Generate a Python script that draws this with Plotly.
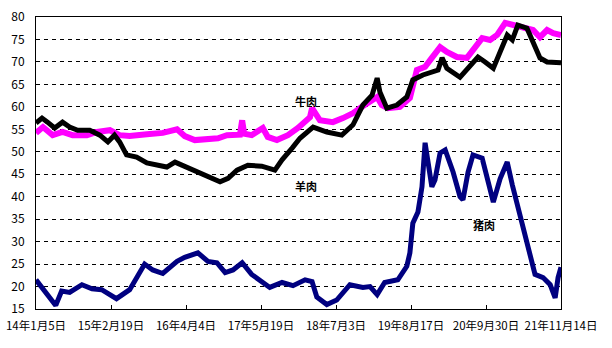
import plotly.graph_objects as go

# ---- data ----
tick_dates = ["2014-01-05", "2015-02-19", "2016-04-04", "2017-05-19",
              "2018-07-03", "2019-08-17", "2020-09-30", "2021-11-14"]
tick_labels = ["14年1月5日", "15年2月19日", "16年4月4日", "17年5月19日",
               "18年7月3日", "19年8月17日", "20年9月30日", "21年11月14日"]

pork_dates = ["2014-01-05", "2014-02-23", "2014-04-23", "2014-05-25", "2014-07-08", "2014-09-13",
              "2014-11-07", "2014-12-30", "2015-03-21", "2015-06-01", "2015-07-09", "2015-08-22",
              "2015-10-05", "2015-11-29", "2016-02-15", "2016-03-28", "2016-06-08", "2016-08-02",
              "2016-09-20", "2016-11-04", "2016-12-17", "2017-02-05", "2017-03-29", "2017-05-23",
              "2017-07-06", "2017-09-11", "2017-11-10", "2018-01-15", "2018-02-22", "2018-03-20",
              "2018-05-14", "2018-07-07", "2018-09-17", "2018-11-27", "2019-01-05", "2019-02-13",
              "2019-03-26", "2019-06-06", "2019-07-25", "2019-08-11", "2019-08-27", "2019-09-24",
              "2019-10-16", "2019-11-02", "2019-11-18", "2019-12-09", "2019-12-26", "2020-01-23",
              "2020-02-20", "2020-04-03", "2020-05-11", "2020-05-27", "2020-06-24", "2020-07-21",
              "2020-09-09", "2020-10-12", "2020-11-09", "2020-12-16", "2021-01-24", "2021-02-21",
              "2021-03-07", "2021-04-04", "2021-05-01", "2021-05-28", "2021-06-25", "2021-08-08",
              "2021-09-16", "2021-10-13", "2021-10-29", "2021-11-14"]
pork_vals = [21.5, 18.7, 15.8, 19.0, 18.7, 20.4,
             19.5, 19.3, 17.3, 19.3, 22.2, 25.0,
             23.7, 22.9, 25.6, 26.5, 27.5, 25.6,
             25.3, 23.1, 23.7, 25.3, 22.7, 21.1,
             19.8, 20.9, 20.2, 21.5, 21.1, 17.7,
             16.0, 17.0, 20.4, 19.8, 20.0, 18.2,
             20.9, 21.5, 24.5, 27.5, 34.1, 36.6,
             42.2, 52.0, 48.2, 42.2, 43.7, 49.7,
             50.4, 45.5, 40.0, 39.3, 45.5, 49.3,
             48.6, 43.3, 38.8, 44.0, 47.7, 42.6,
             40.4, 35.9, 31.0, 27.0, 22.7, 22.0,
             20.4, 17.5, 22.0, 24.3]

beef_dates = ["2014-01-05", "2014-02-12", "2014-04-06", "2014-05-30", "2014-07-24", "2014-10-10",
              "2014-12-04", "2015-02-13", "2015-04-07", "2015-06-01", "2015-09-03", "2015-11-29",
              "2016-02-15", "2016-03-28", "2016-05-22", "2016-08-02", "2016-09-26", "2016-11-14",
              "2017-01-08", "2017-01-24", "2017-02-05", "2017-02-16", "2017-03-29", "2017-05-29",
              "2017-06-25", "2017-08-14", "2017-10-13", "2017-12-07", "2018-02-11", "2018-02-22",
              "2018-04-06", "2018-06-16", "2018-08-10", "2018-10-04", "2018-11-22", "2019-01-05",
              "2019-02-13", "2019-03-10", "2019-04-12", "2019-06-17", "2019-08-11", "2019-09-18",
              "2019-11-02", "2019-12-09", "2020-01-23", "2020-02-29", "2020-04-24", "2020-06-18",
              "2020-07-21", "2020-09-09", "2020-10-22", "2020-11-30", "2021-01-13", "2021-02-26",
              "2021-04-20", "2021-06-14", "2021-07-22", "2021-08-30", "2021-10-02", "2021-11-14"]
beef_vals = [54.2, 55.5, 53.7, 54.4, 53.7, 53.7,
             54.4, 54.8, 53.7, 53.5, 53.9, 54.2,
             55.0, 53.5, 52.6, 53.0, 53.0, 53.7,
             53.7, 53.8, 57.0, 54.0, 53.7, 55.3,
             53.3, 52.6, 53.7, 55.3, 57.7, 59.7,
             57.0, 56.6, 57.5, 58.6, 60.0, 61.0,
             62.2, 60.4, 59.7, 60.0, 62.0, 68.2,
             68.9, 70.9, 73.3, 72.2, 71.1, 70.9,
             72.7, 75.3, 74.9, 76.0, 78.7, 78.2,
             77.8, 77.1, 75.5, 77.1, 76.4, 76.0]

mutton_dates = ["2014-01-05", "2014-02-07", "2014-03-09", "2014-04-17", "2014-05-30", "2014-07-08",
                "2014-08-21", "2014-10-26", "2014-12-20", "2015-02-02", "2015-03-10", "2015-04-07",
                "2015-05-15", "2015-07-09", "2015-09-03", "2015-10-27", "2015-12-21", "2016-02-04",
                "2016-03-28", "2016-06-08", "2016-08-24", "2016-10-07", "2016-11-20", "2017-01-08",
                "2017-03-08", "2017-05-23", "2017-08-03", "2017-09-11", "2017-11-05", "2017-12-18",
                "2018-02-28", "2018-05-14", "2018-08-04", "2018-10-04", "2018-11-27", "2019-01-16",
                "2019-02-13", "2019-02-28", "2019-04-07", "2019-06-01", "2019-07-25", "2019-08-27",
                "2019-10-21", "2019-12-15", "2020-01-12", "2020-02-03", "2020-02-29", "2020-05-11",
                "2020-06-24", "2020-08-17", "2020-09-25", "2020-11-09", "2020-12-16", "2021-01-24",
                "2021-02-21", "2021-03-23", "2021-05-12", "2021-06-14", "2021-07-22", "2021-08-30",
                "2021-10-02", "2021-11-14"]
mutton_vals = [56.4, 57.5, 56.6, 55.3, 56.6, 55.5,
               54.8, 54.8, 53.7, 52.2, 53.7, 52.2,
               49.3, 48.8, 47.5, 47.0, 46.6, 47.7,
               46.8, 45.5, 44.1, 43.3, 44.1, 45.9,
               47.0, 46.8, 45.9, 48.2, 50.8, 53.0,
               55.5, 54.4, 53.7, 56.0, 60.4, 62.6,
               66.4, 63.3, 59.7, 60.4, 62.2, 66.0,
               67.1, 67.8, 68.2, 70.9, 68.6, 66.6,
               68.6, 71.1, 70.0, 68.6, 72.2, 76.0,
               74.9, 78.2, 77.5, 74.4, 70.9, 70.0,
               69.8, 69.8]

labels = ["牛肉", "羊肉", "猪肉"]
label_x = ["2018-01-20", "2018-01-20", "2020-09-20"]
label_y = [61.3, 42.4, 33.7]

FONT = "Liberation Sans Narrow, Arial Narrow, Noto Sans CJK SC, sans-serif"

fig = go.Figure()
fig.add_trace(go.Scatter(x=pork_dates, y=pork_vals, mode="lines",
                         line=dict(color="#000080", width=5), name=labels[2]))
fig.add_trace(go.Scatter(x=beef_dates, y=beef_vals, mode="lines",
                         line=dict(color="#FF00FF", width=6), name=labels[0]))
fig.add_trace(go.Scatter(x=mutton_dates, y=mutton_vals, mode="lines",
                         line=dict(color="#000000", width=5), name=labels[1]))

for t, xx, yy in zip(labels, label_x, label_y):
    fig.add_annotation(x=xx, y=yy, text="<b>" + t + "</b>", showarrow=False,
                       font=dict(family="Noto Sans CJK SC", size=11, color="black"))

fig.update_layout(
    width=612, height=348,
    margin=dict(l=36, r=51, t=17, b=39, autoexpand=False),
    paper_bgcolor="white", plot_bgcolor="white",
    showlegend=False,
    font=dict(family=FONT, size=12, color="black"),
)
fig.update_xaxes(
    type="date", automargin=False,
    range=[tick_dates[0], tick_dates[-1]],
    tickmode="array", tickvals=tick_dates, ticktext=tick_labels,
    ticks="inside", ticklen=4, tickcolor="black",
    showline=True, linecolor="black", linewidth=1, mirror=True,
    showgrid=False, zeroline=False,
    tickfont=dict(family=FONT, size=11.5),
    ticklabelstandoff=6,
)
fig.update_yaxes(
    automargin=False,
    range=[15, 80], dtick=5, tick0=15,
    showline=True, linecolor="black", linewidth=1, mirror=True,
    showgrid=True, gridcolor="black", gridwidth=1, griddash="4px,4px",
    ticks="", zeroline=False,
    tickfont=dict(family=FONT, size=12),
    ticklabelstandoff=8,
)

fig.write_html("out.html")
